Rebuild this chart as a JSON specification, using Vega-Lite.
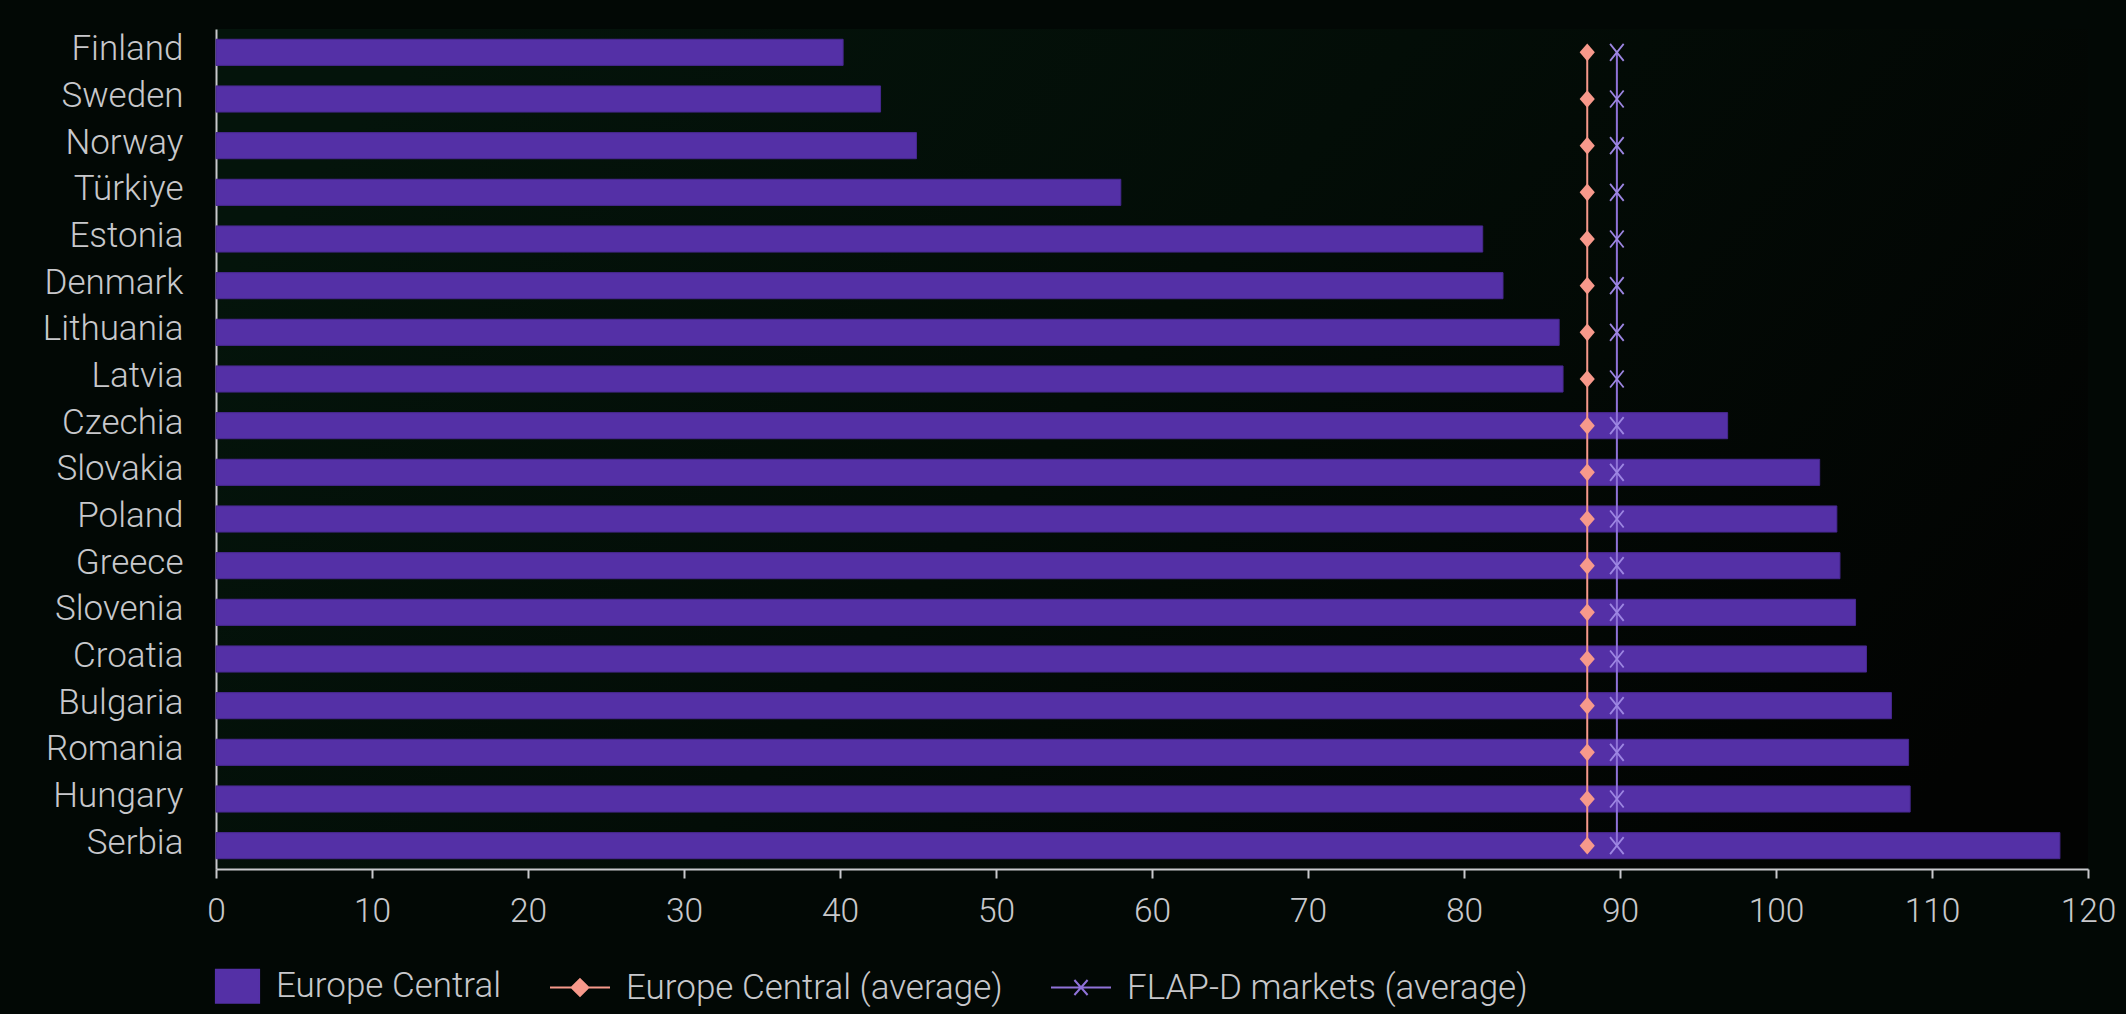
{
  "$schema": "https://vega.github.io/schema/vega-lite/v6.json",
  "width": 1872,
  "height": 840,
  "autosize": {"type": "none"},
  "padding": {"left": 216, "top": 29, "right": 38, "bottom": 145},
  "background": "#020805",
  "config": {
    "view": {"stroke": null, "fill": {"gradient": "linear", "x1": 0, "y1": 0.3, "x2": 1, "y2": 0.7, "stops": [{"offset": 0, "color": "#04140b"}, {"offset": 0.45, "color": "#030d07"}, {"offset": 1, "color": "#020302"}]}},
    "font": "Roboto",
    "axis": {"labelFont": "Roboto", "labelFontWeight": 300, "labelColor": "#c8c8cc", "domainColor": "#c8c8cc", "tickColor": "#c8c8cc", "grid": false, "title": null},
    "legend": {"orient": "none", "legendX": -17, "legendY": 926, "direction": "horizontal", "title": null,
      "symbolSize": 3600, "symbolStrokeWidth": 2, "labelFontSize": 35, "labelFont": "Roboto", "labelFontWeight": 300, "labelColor": "#c8c8cc",
      "labelOffset": 15, "columnPadding": 44, "padding": 0, "labelLimit": 0}
  },
  "data": {"values": [
    {"country": "Finland", "series": "Europe Central", "value": 40.2},
    {"country": "Sweden", "series": "Europe Central", "value": 42.6},
    {"country": "Norway", "series": "Europe Central", "value": 44.9},
    {"country": "Türkiye", "series": "Europe Central", "value": 58.0},
    {"country": "Estonia", "series": "Europe Central", "value": 81.2},
    {"country": "Denmark", "series": "Europe Central", "value": 82.5},
    {"country": "Lithuania", "series": "Europe Central", "value": 86.1},
    {"country": "Latvia", "series": "Europe Central", "value": 86.35},
    {"country": "Czechia", "series": "Europe Central", "value": 96.9},
    {"country": "Slovakia", "series": "Europe Central", "value": 102.8},
    {"country": "Poland", "series": "Europe Central", "value": 103.9},
    {"country": "Greece", "series": "Europe Central", "value": 104.1},
    {"country": "Slovenia", "series": "Europe Central", "value": 105.1},
    {"country": "Croatia", "series": "Europe Central", "value": 105.8},
    {"country": "Bulgaria", "series": "Europe Central", "value": 107.4},
    {"country": "Romania", "series": "Europe Central", "value": 108.5},
    {"country": "Hungary", "series": "Europe Central", "value": 108.6},
    {"country": "Serbia", "series": "Europe Central", "value": 118.2},
    {"country": "Finland", "series": "Europe Central (average)", "value": 87.9},
    {"country": "Sweden", "series": "Europe Central (average)", "value": 87.9},
    {"country": "Norway", "series": "Europe Central (average)", "value": 87.9},
    {"country": "Türkiye", "series": "Europe Central (average)", "value": 87.9},
    {"country": "Estonia", "series": "Europe Central (average)", "value": 87.9},
    {"country": "Denmark", "series": "Europe Central (average)", "value": 87.9},
    {"country": "Lithuania", "series": "Europe Central (average)", "value": 87.9},
    {"country": "Latvia", "series": "Europe Central (average)", "value": 87.9},
    {"country": "Czechia", "series": "Europe Central (average)", "value": 87.9},
    {"country": "Slovakia", "series": "Europe Central (average)", "value": 87.9},
    {"country": "Poland", "series": "Europe Central (average)", "value": 87.9},
    {"country": "Greece", "series": "Europe Central (average)", "value": 87.9},
    {"country": "Slovenia", "series": "Europe Central (average)", "value": 87.9},
    {"country": "Croatia", "series": "Europe Central (average)", "value": 87.9},
    {"country": "Bulgaria", "series": "Europe Central (average)", "value": 87.9},
    {"country": "Romania", "series": "Europe Central (average)", "value": 87.9},
    {"country": "Hungary", "series": "Europe Central (average)", "value": 87.9},
    {"country": "Serbia", "series": "Europe Central (average)", "value": 87.9},
    {"country": "Finland", "series": "FLAP-D markets (average)", "value": 89.8},
    {"country": "Sweden", "series": "FLAP-D markets (average)", "value": 89.8},
    {"country": "Norway", "series": "FLAP-D markets (average)", "value": 89.8},
    {"country": "Türkiye", "series": "FLAP-D markets (average)", "value": 89.8},
    {"country": "Estonia", "series": "FLAP-D markets (average)", "value": 89.8},
    {"country": "Denmark", "series": "FLAP-D markets (average)", "value": 89.8},
    {"country": "Lithuania", "series": "FLAP-D markets (average)", "value": 89.8},
    {"country": "Latvia", "series": "FLAP-D markets (average)", "value": 89.8},
    {"country": "Czechia", "series": "FLAP-D markets (average)", "value": 89.8},
    {"country": "Slovakia", "series": "FLAP-D markets (average)", "value": 89.8},
    {"country": "Poland", "series": "FLAP-D markets (average)", "value": 89.8},
    {"country": "Greece", "series": "FLAP-D markets (average)", "value": 89.8},
    {"country": "Slovenia", "series": "FLAP-D markets (average)", "value": 89.8},
    {"country": "Croatia", "series": "FLAP-D markets (average)", "value": 89.8},
    {"country": "Bulgaria", "series": "FLAP-D markets (average)", "value": 89.8},
    {"country": "Romania", "series": "FLAP-D markets (average)", "value": 89.8},
    {"country": "Hungary", "series": "FLAP-D markets (average)", "value": 89.8},
    {"country": "Serbia", "series": "FLAP-D markets (average)", "value": 89.8}
  ]},
  "encoding": {
    "y": {
      "field": "country", "type": "nominal", "sort": null,
      "scale": {"paddingInner": 0.44, "paddingOuter": 0.22},
      "axis": {"ticks": false, "labelPadding": 33, "labelFontSize": 35, "labelOffset": -3, "domainWidth": 2, "labelLimit": 0}
    },
    "x": {
      "field": "value", "type": "quantitative",
      "scale": {"domain": [0, 120], "nice": false},
      "axis": {"values": [0, 10, 20, 30, 40, 50, 60, 70, 80, 90, 100, 110, 120], "tickSize": 9, "tickWidth": 2, "domainWidth": 2, "labelPadding": 17, "labelFontSize": 33.5, "labelFlush": false}
    }
  },
  "layer": [
    {
      "transform": [{"filter": "datum.series == 'Europe Central'"}],
      "mark": {"type": "bar", "color": "#5430a6", "stroke": "#47288f", "strokeWidth": 1}
    },
    {
      "transform": [{"filter": "datum.series == 'Europe Central (average)'"}],
      "mark": {"type": "line", "color": "#f7998b", "strokeWidth": 2, "orient": "vertical"}
    },
    {
      "transform": [{"filter": "datum.series == 'FLAP-D markets (average)'"}],
      "mark": {"type": "line", "color": "#8f72d8", "strokeWidth": 2, "orient": "vertical"}
    },
    {
      "transform": [{"filter": "datum.series == 'Europe Central (average)'"}],
      "mark": {"type": "point", "shape": "M0,-1.1L0.95,0L0,1.1L-0.95,0Z", "filled": true, "size": 256, "color": "#f7998b", "opacity": 1}
    },
    {
      "transform": [{"filter": "datum.series == 'FLAP-D markets (average)'"}],
      "mark": {"type": "point", "shape": "M-0.8,-1L0.8,1M-0.8,1L0.8,-1", "filled": false, "size": 289, "color": "#9d86e2", "strokeWidth": 1.8, "opacity": 1}
    },
    {
      "transform": [{"filter": "false"}],
      "mark": {"type": "point", "opacity": 1, "strokeWidth": 2},
      "encoding": {
        "x": {"field": "value", "type": "quantitative"},
        "y": {"field": "country", "type": "nominal", "sort": null},
        "fill": {
          "field": "series", "type": "nominal",
          "scale": {"domain": ["Europe Central", "Europe Central (average)", "FLAP-D markets (average)"], "range": ["#5430a6", "#f7998b", "#8f72d8"]}
        },
        "stroke": {
          "field": "series", "type": "nominal",
          "scale": {"domain": ["Europe Central", "Europe Central (average)", "FLAP-D markets (average)"], "range": ["#5430a6", "#f7998b", "#8f72d8"]}
        },
        "shape": {
          "field": "series", "type": "nominal",
          "scale": {"domain": ["Europe Central", "Europe Central (average)", "FLAP-D markets (average)"], "range": ["M-0.47,-0.55H0.97V0.55H-0.47Z", "M-1,0H1M0,-0.28L0.28,0L0,0.28L-0.28,0Z", "M-1,0H1M-0.22,-0.25L0.22,0.25M-0.22,0.25L0.22,-0.25"]}
        }
      }
    }
  ]
}
